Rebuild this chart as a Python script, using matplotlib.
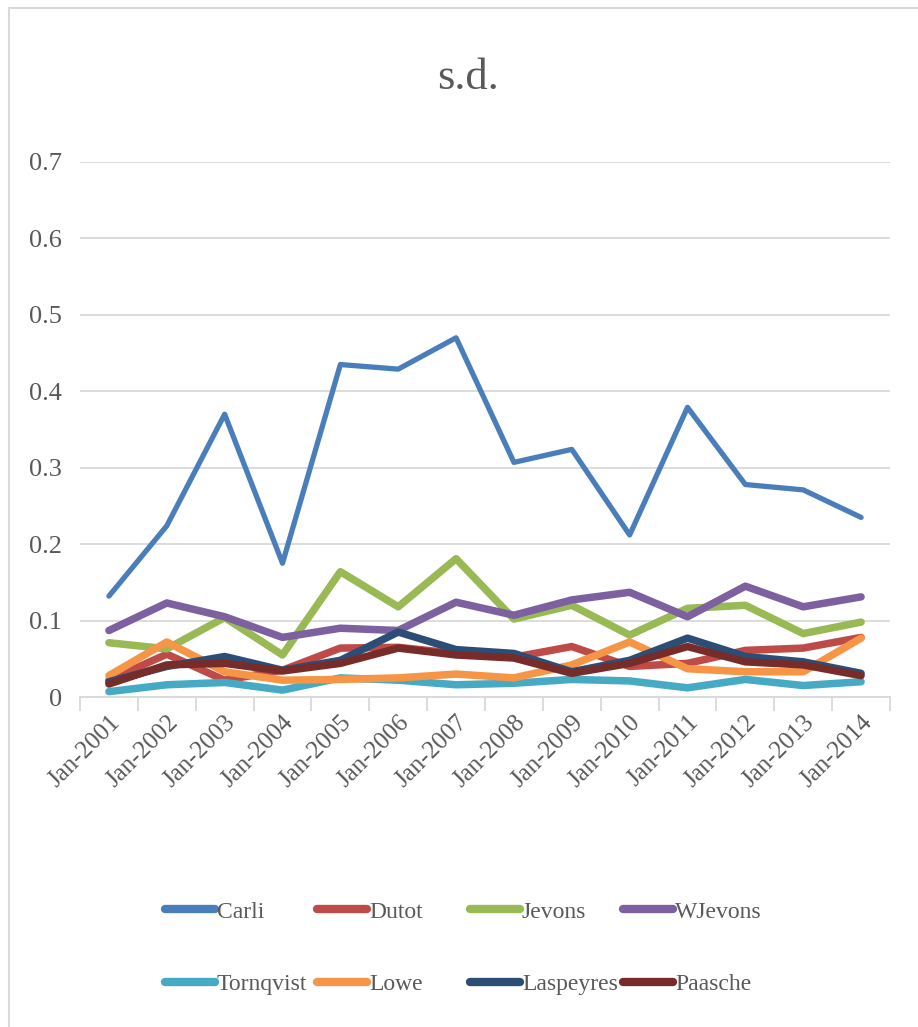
import matplotlib.pyplot as plt
from matplotlib.patches import Rectangle

years = ['Jan-2001', 'Jan-2002', 'Jan-2003', 'Jan-2004', 'Jan-2005', 'Jan-2006', 'Jan-2007',
         'Jan-2008', 'Jan-2009', 'Jan-2010', 'Jan-2011', 'Jan-2012', 'Jan-2013', 'Jan-2014']

carli = [0.132, 0.224, 0.370, 0.175, 0.435, 0.429, 0.470, 0.307, 0.324, 0.212, 0.379, 0.278, 0.271, 0.235]
dutot = [0.022, 0.056, 0.022, 0.035, 0.064, 0.065, 0.057, 0.052, 0.066, 0.040, 0.044, 0.061, 0.064, 0.078]
jevons = [0.071, 0.063, 0.104, 0.055, 0.164, 0.118, 0.181, 0.102, 0.120, 0.081, 0.116, 0.120, 0.083, 0.098]
wjevons = [0.087, 0.123, 0.105, 0.078, 0.090, 0.087, 0.124, 0.107, 0.127, 0.137, 0.105, 0.145, 0.118, 0.131]
tornqvist = [0.007, 0.016, 0.019, 0.009, 0.025, 0.022, 0.016, 0.018, 0.023, 0.021, 0.012, 0.023, 0.015, 0.020]
lowe = [0.028, 0.072, 0.033, 0.022, 0.023, 0.025, 0.030, 0.025, 0.042, 0.072, 0.037, 0.033, 0.033, 0.077]
laspeyres = [0.020, 0.040, 0.053, 0.035, 0.048, 0.085, 0.062, 0.057, 0.033, 0.048, 0.077, 0.053, 0.046, 0.031]
paasche = [0.017, 0.042, 0.044, 0.034, 0.044, 0.064, 0.055, 0.051, 0.031, 0.044, 0.066, 0.046, 0.042, 0.028]

series = [
    ('Carli', carli, '#4a7ebb', 3.8),
    ('Dutot', dutot, '#be4b48', 5.4),
    ('Jevons', jevons, '#98b954', 5.4),
    ('WJevons', wjevons, '#7d60a0', 5.4),
    ('Tornqvist', tornqvist, '#46aac5', 5.4),
    ('Lowe', lowe, '#f69546', 5.4),
    ('Laspeyres', laspeyres, '#2c4d75', 5.4),
    ('Paasche', paasche, '#772c2a', 5.4),
]

plt.rcParams['font.family'] = ['Liberation Serif', 'DejaVu Serif']
text_col = '#595959'

fig = plt.figure(figsize=(9.18, 10.27), dpi=100)
fig.patches.append(Rectangle((9 / 918, -0.01), 1.0, 1 - 8 / 1027 + 0.01, transform=fig.transFigure,
                             fill=False, edgecolor='#d9d9d9', linewidth=1.5))

ax = fig.add_axes([80 / 918, 1 - 697 / 1027, 810 / 918, 535 / 1027])
x = list(range(len(years)))

# later series are drawn over earlier ones
lines = []
for name, vals, col, lw in series:
    ln, = ax.plot(x, vals, color=col, linewidth=lw, solid_capstyle='round', solid_joinstyle='round', label=name)
    lines.append(ln)

ax.set_xlim(-0.5, len(years) - 0.5)
ax.set_ylim(0, 0.7)
ax.set_yticks([0, 0.1, 0.2, 0.3, 0.4, 0.5, 0.6, 0.7])
ax.set_yticklabels(['0', '0.1', '0.2', '0.3', '0.4', '0.5', '0.6', '0.7'])
ax.grid(axis='y', color='#d9d9d9', linewidth=1.3)
ax.set_axisbelow(True)
for s in ['top', 'right', 'left']:
    ax.spines[s].set_visible(False)
ax.spines['bottom'].set_color('#d9d9d9')
ax.spines['bottom'].set_linewidth(1.3)

ax.tick_params(axis='y', length=0, pad=13, labelsize=19, labelcolor=text_col)
ax.set_xticks([i - 0.5 for i in range(len(years) + 1)], minor=False)
ax.set_xticklabels([])
ax.tick_params(axis='x', which='major', length=10, color='#d9d9d9', width=1.3)
ax.set_xticks(x, minor=True)
ax.set_xticklabels(years, minor=True, rotation=45, ha='right', va='top', rotation_mode='anchor')
ax.tick_params(axis='x', which='minor', length=0, pad=10, labelsize=18, labelcolor=text_col)

fig.text(0.51, 1 - 78 / 1027, 's.d.', ha='center', va='center', fontsize=32, color=text_col)

# one small legend per column so the columns are evenly spaced
col_left = [165, 317, 470, 623]
for c, left in enumerate(col_left):
    pair = [lines[c], lines[c + 4]]
    leg = fig.legend(pair, [l.get_label() for l in pair], loc='upper left',
                     bbox_to_anchor=(left / 918, 1 - 901 / 1027), frameon=False,
                     fontsize=17, labelcolor=text_col, handlelength=2.1, handletextpad=0.1,
                     labelspacing=2.15, borderpad=0, borderaxespad=0)
    for h in leg.legend_handles:
        h.set_linewidth(6)

fig.savefig('out.png', dpi=100)
